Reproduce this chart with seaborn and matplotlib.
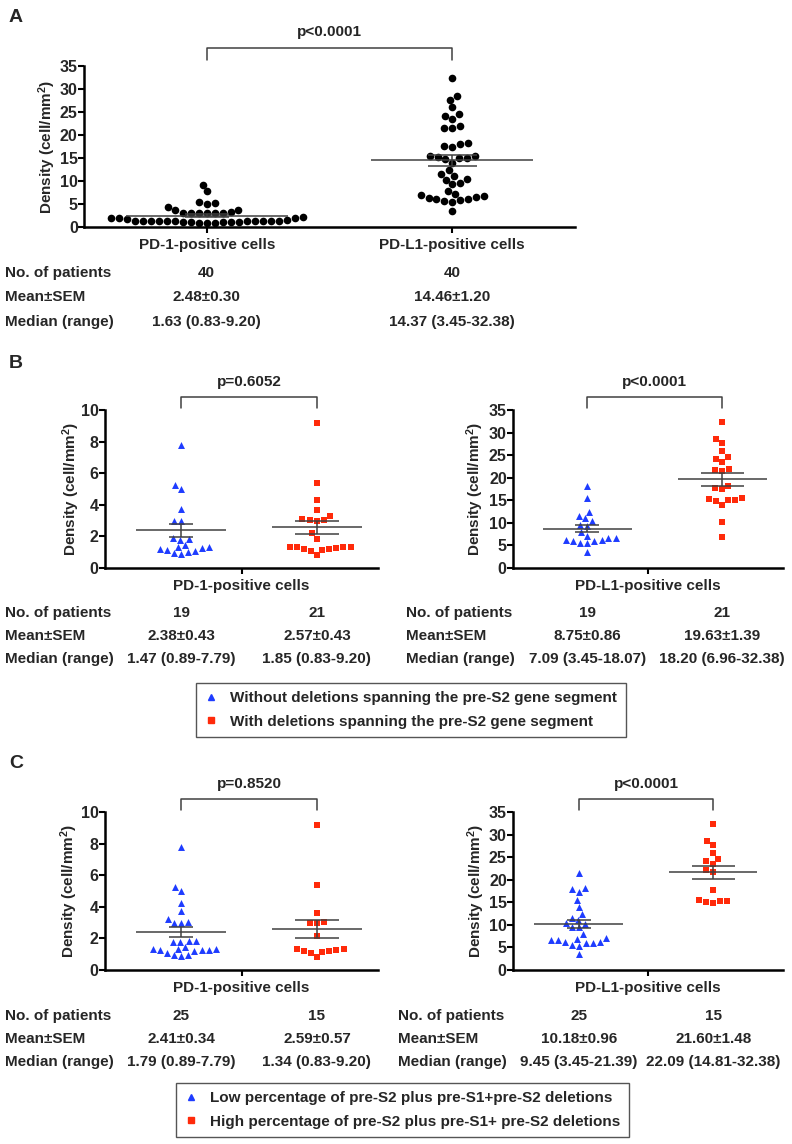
import numpy as np
import pandas as pd
import matplotlib
matplotlib.use('Agg')
import matplotlib.pyplot as plt
import matplotlib.transforms as mtrans
from matplotlib.lines import Line2D
import seaborn as sns

sns.set_style('ticks')
plt.rcParams['font.family'] = ['Liberation Sans', 'DejaVu Sans']
plt.rcParams['font.weight'] = 'bold'
plt.rcParams['mathtext.fontset'] = 'custom'
plt.rcParams['mathtext.rm'] = 'Liberation Sans:bold'
plt.rcParams['mathtext.it'] = 'Liberation Sans:bold'
plt.rcParams['mathtext.bf'] = 'Liberation Sans:bold'

BLUE = '#1e3cff'
RED = '#ff2a0a'
LINE = '#404040'
FS = 11

# --- data (cells/mm2) ---
b_pd1_without = [7.79, 5.25, 5.00, 3.75, 3.00, 2.95, 1.90, 1.85, 1.80, 1.30,
                 1.25, 1.15, 1.00, 0.89, 0.95, 1.05, 1.20, 1.30, 1.47]
b_pd1_with = [9.20, 5.35, 4.30, 3.65, 3.30, 3.10, 3.05, 3.00, 3.05, 2.20, 1.85,
              1.35, 1.30, 1.20, 1.15, 0.83, 1.10, 1.20, 1.25, 1.35, 1.35]
b_pdl1_without = [18.07, 15.40, 12.30, 11.00, 10.50, 11.60, 9.50, 9.40, 7.90, 7.09,
                  6.60, 6.10, 5.90, 5.50, 5.60, 6.00, 6.30, 6.70, 3.45]
b_pdl1_with = [32.38, 28.50, 27.60, 26.00, 24.50, 24.10, 23.50, 22.00, 21.50, 21.60,
               18.20, 17.70, 17.40, 15.30, 15.00, 14.00, 14.80, 15.10, 15.40, 10.30, 6.96]
c_pd1_low = [7.79, 5.25, 5.00, 4.25, 3.75, 3.25, 3.05, 2.95, 3.00, 1.85, 1.85, 1.80,
             1.79, 1.47, 1.30, 1.25, 1.20, 0.95, 1.30, 0.89, 0.95, 1.05, 1.25, 1.25, 1.30]
c_pd1_high = [9.20, 5.35, 3.60, 3.05, 3.00, 2.95, 2.15, 1.34, 1.32, 1.20, 1.15,
              0.83, 1.05, 1.20, 1.25]
c_pdl1_low = [21.39, 18.00, 18.10, 17.30, 15.40, 13.90, 12.30, 11.60, 11.00, 10.50,
              10.30, 9.50, 9.45, 7.90, 6.90, 6.60, 6.10, 6.00, 5.50, 5.40, 6.00,
              6.30, 6.70, 7.00, 3.45]
c_pdl1_high = [32.38, 28.50, 27.60, 26.00, 24.60, 24.10, 23.50, 22.09, 21.60, 17.70,
               15.40, 15.20, 14.81, 15.10, 15.30]

# panel A pools both subgroups of panel B
a_pd1 = b_pd1_without + b_pd1_with
a_pdl1 = b_pdl1_without + b_pdl1_with

# reported summary statistics
a_n, a_mean, a_sem = [40, 40], [2.48, 14.46], [0.30, 1.20]
a_med, a_min, a_max = [1.63, 14.37], [0.83, 3.45], [9.20, 32.38]
b1_n, b1_mean, b1_sem = [19, 21], [2.38, 2.57], [0.43, 0.43]
b1_med, b1_min, b1_max = [1.47, 1.85], [0.89, 0.83], [7.79, 9.20]
b2_n, b2_mean, b2_sem = [19, 21], [8.75, 19.63], [0.86, 1.39]
b2_med, b2_min, b2_max = [7.09, 18.20], [3.45, 6.96], [18.07, 32.38]
c1_n, c1_mean, c1_sem = [25, 15], [2.41, 2.59], [0.34, 0.57]
c1_med, c1_min, c1_max = [1.79, 1.34], [0.89, 0.83], [7.79, 9.20]
c2_n, c2_mean, c2_sem = [25, 15], [10.18, 21.60], [0.96, 1.48]
c2_med, c2_min, c2_max = [9.45, 22.09], [3.45, 14.81], [21.39, 32.38]

p_values = ['p<0.0001', 'p=0.6052', 'p<0.0001', 'p=0.8520', 'p<0.0001']
row_labels = ['No. of patients', 'Mean\u00b1SEM', 'Median (range)']
legend_b = ['Without deletions spanning the pre-S2 gene segment',
            'With deletions spanning the pre-S2 gene segment']
legend_c = ['Low percentage of pre-S2 plus pre-S1+pre-S2 deletions',
            'High percentage of pre-S2 plus pre-S1+ pre-S2 deletions']
ylabel = 'Density (cell/mm$^2$)'

W, H = 792, 1144
fig = plt.figure(figsize=(W / 100, H / 100), dpi=100)


def px_axes(x0, x1, y_top, y_bot):
    return fig.add_axes([x0 / W, 1 - y_bot / H, (x1 - x0) / W, (y_bot - y_top) / H])


def draw_scatter(ax, groups, markers, colors, size, means, sems, ylim, ystep, xlim,
                 mean_hw, cap_hw, ptext, br, ylab_x, xticks, xlabels):
    order = ['g0', 'g1']
    for i, vals in enumerate(groups):
        df = pd.DataFrame({'grp': order[i], 'val': vals})
        sns.swarmplot(data=df, x='grp', y='val', order=order, ax=ax, marker=markers[i],
                      color=colors[i], size=size, linewidth=0, zorder=2, warn_thresh=1)
    for i in range(2):
        lo, hi = means[i] - sems[i], means[i] + sems[i]
        ax.hlines(means[i], i - mean_hw, i + mean_hw, color=LINE, lw=1.1, zorder=4)
        ax.hlines([lo, hi], i - cap_hw[i], i + cap_hw[i], color=LINE, lw=1.1, zorder=4)
        ax.vlines(i, lo, hi, color=LINE, lw=1.1, zorder=4)
    ax.set_xlim(*xlim)
    ax.set_ylim(*ylim)
    ax.set_yticks(np.arange(ylim[0], ylim[1] + 0.01, ystep))
    ax.set_yticklabels([f'{t:g}' for t in ax.get_yticks()])
    if xticks is None:
        xticks = [sum(xlim) / 2]
    ax.set_xticks(xticks)
    ax.set_xticklabels(xlabels)
    ax.set_xlabel('')
    ax.set_ylabel(ylabel, fontsize=FS, fontweight='bold')
    ax.yaxis.set_label_coords(ylab_x, 0.5)
    sns.despine(ax=ax)
    for s in ['left', 'bottom']:
        ax.spines[s].set_linewidth(1.8)
        ax.spines[s].set_color('black')
    ax.tick_params(axis='both', direction='out', length=4, width=1.5, color='black')
    ax.tick_params(axis='y', labelsize=11.5, pad=0.5)
    ax.tick_params(axis='x', labelsize=FS, pad=4)
    tr = mtrans.blended_transform_factory(ax.transData, ax.transAxes)
    ax.plot([0, 0, 1, 1], [br[0], br[1], br[1], br[0]], transform=tr, color=LINE,
            lw=1.1, clip_on=False)
    ax.text(0.5, br[2], ptext, transform=tr, ha='center', va='center', fontsize=FS,
            fontweight='bold')


def draw_table(ax, label_x, rows_y, ns, means, sems, meds, mins, maxs):
    tr = mtrans.blended_transform_factory(ax.transData, fig.transFigure)
    ys = [1 - y / H for y in rows_y]
    for lab, y in zip(row_labels, ys):
        fig.text(label_x / W, y, lab, ha='left', va='center', fontsize=FS)
    for i in range(len(ns)):
        cells = [f'{ns[i]}', f'{means[i]:.2f}\u00b1{sems[i]:.2f}',
                 f'{meds[i]:.2f} ({mins[i]:.2f}-{maxs[i]:.2f})']
        for txt, y in zip(cells, ys):
            ax.text(i, y, txt, transform=tr, ha='center', va='center', fontsize=FS)


def draw_legend(labels, x, y):
    handles = [Line2D([], [], marker='^', color=BLUE, ls='none', markersize=5),
               Line2D([], [], marker='s', color=RED, ls='none', markersize=5)]
    leg = fig.legend(handles, labels, loc='upper left', bbox_to_anchor=(x / W, 1 - y / H),
                     fontsize=FS, frameon=True, fancybox=False, edgecolor='#555555',
                     framealpha=1, borderpad=0.55, labelspacing=0.6, handlelength=0.8,
                     handletextpad=0.9, borderaxespad=0)
    leg.get_frame().set_linewidth(1.0)
    for t in leg.get_texts():
        t.set_fontweight('bold')


# ---- panel A ----
axA = px_axes(84, 575, 66, 227)
draw_scatter(axA, [a_pd1, a_pdl1], ['o', 'o'], ['black', 'black'], 5.5, a_mean, a_sem,
             (0, 35), 5, (-0.5, 1.5), 0.33, [0.09, 0.10], p_values[0],
             (1.037, 1.112, 1.21), -0.053, [0, 1], ['PD-1-positive cells', 'PD-L1-positive cells'])
draw_table(axA, 5, [273, 297, 322], a_n, a_mean, a_sem, a_med, a_min, a_max)

# ---- panel B ----
axB1 = px_axes(105, 378, 410, 568)
draw_scatter(axB1, [b_pd1_without, b_pd1_with], ['^', 's'], [BLUE, RED], 5, b1_mean, b1_sem,
             (0, 10), 2, (-0.56, 1.45), 0.33, [0.09, 0.16], p_values[1],
             (1.013, 1.082, 1.177), -0.084, None, ['PD-1-positive cells'])
draw_table(axB1, 5, [613, 636, 659], b1_n, b1_mean, b1_sem, b1_med, b1_min, b1_max)

axB2 = px_axes(513, 783, 410, 568)
draw_scatter(axB2, [b_pdl1_without, b_pdl1_with], ['^', 's'], [BLUE, RED], 5, b2_mean, b2_sem,
             (0, 35), 5, (-0.55, 1.45), 0.33, [0.09, 0.16], p_values[2],
             (1.013, 1.082, 1.177), -0.10, None, ['PD-L1-positive cells'])
draw_table(axB2, 406, [613, 636, 659], b2_n, b2_mean, b2_sem, b2_med, b2_min, b2_max)
draw_legend(legend_b, 196, 683)

# ---- panel C ----
axC1 = px_axes(105, 378, 812, 970)
draw_scatter(axC1, [c_pd1_low, c_pd1_high], ['^', 's'], [BLUE, RED], 5, c1_mean, c1_sem,
             (0, 10), 2, (-0.56, 1.45), 0.33, [0.09, 0.16], p_values[3],
             (1.013, 1.082, 1.177), -0.092, None, ['PD-1-positive cells'])
draw_table(axC1, 5, [1016, 1039, 1062], c1_n, c1_mean, c1_sem, c1_med, c1_min, c1_max)

axC2 = px_axes(513, 783, 812, 970)
draw_scatter(axC2, [c_pdl1_low, c_pdl1_high], ['^', 's'], [BLUE, RED], 5, c2_mean, c2_sem,
             (0, 35), 5, (-0.49, 1.52), 0.33, [0.09, 0.16], p_values[4],
             (1.013, 1.082, 1.177), -0.096, None, ['PD-L1-positive cells'])
draw_table(axC2, 398, [1016, 1039, 1062], c2_n, c2_mean, c2_sem, c2_med, c2_min, c2_max)
draw_legend(legend_c, 176, 1083)

for letter, y in [('A', 18), ('B', 363), ('C', 763)]:
    fig.text(9 / W, 1 - y / H, letter, fontsize=14, fontweight='bold', va='center', ha='left')

fig.savefig('out.png', dpi=100)
